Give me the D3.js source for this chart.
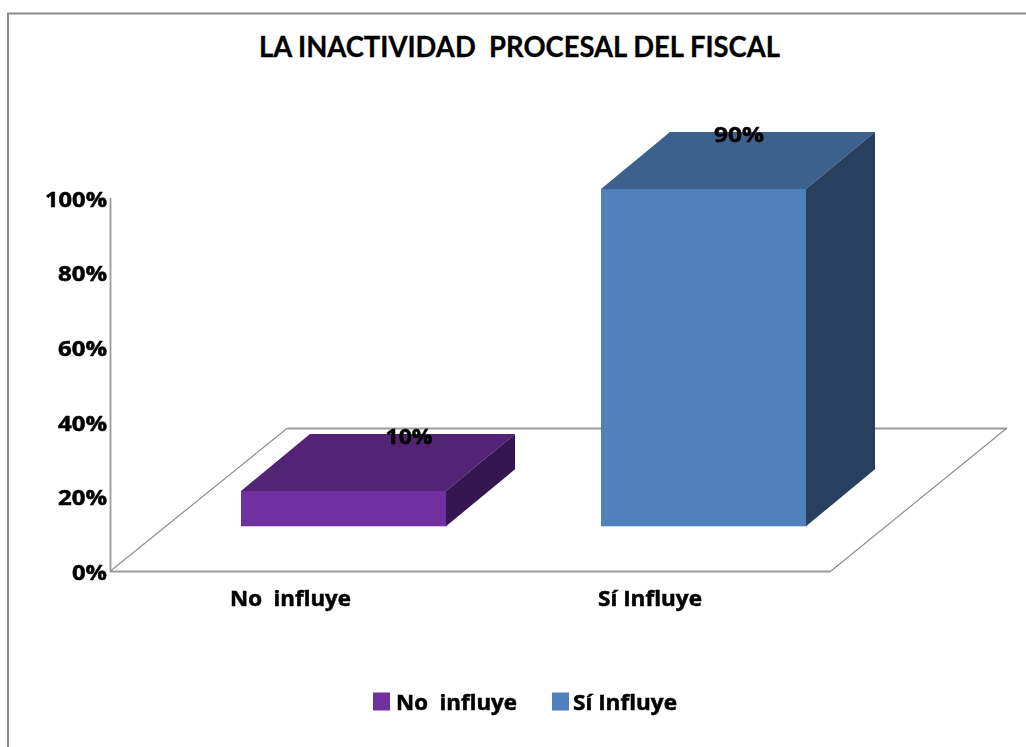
<!DOCTYPE html>
<html><head><meta charset="utf-8">
<script src="https://cdn.jsdelivr.net/npm/d3@7"></script>
<style>
html,body{margin:0;padding:0;background:#fff;overflow:hidden}
svg{display:block}
.lbl{font-family:"Open Sans",sans-serif;font-weight:700;font-size:21px;fill:#000;stroke:#000;stroke-width:.5px;white-space:pre}
</style></head><body><div id="c"></div>
<script>
const categories = ["No  influye", "Sí Influye"];
const values = [10, 90];
const dataLabels = ["10%", "90%"];
const yTicks = [0, 20, 40, 60, 80, 100];
const frontColors = ["#7030a0", "#4f81bd"];
const topColors = ["#532376", "#3c618c"];
const sideColors = ["#351650", "#283f5e"];
const titleText = "LA INACTIVIDAD  PROCESAL DEL FISCAL";

const W = 1026, H = 747;
const svg = d3.select("#c").append("svg").attr("width", W).attr("height", H);
svg.append("defs").append("filter").attr("id","soft")
  .attr("x","-10%").attr("y","-30%").attr("width","120%").attr("height","160%")
  .append("feGaussianBlur").attr("stdDeviation",0.5);

// frame
svg.append("path").attr("d",`M8,${H}V13.5H${W}`).attr("fill","none").attr("stroke","#8c8c8c").attr("stroke-width",2);

svg.append("text").attr("x",519.5).attr("y",57).attr("text-anchor","middle")
  .attr("font-family","Lato, sans-serif").attr("font-weight",700).attr("font-size",28)
  .attr("stroke","#000").attr("stroke-width",0.3)
  .attr("textLength",521).attr("lengthAdjust","spacingAndGlyphs")
  .style("white-space","pre").text(titleText);

// scales
const y = d3.scaleLinear().domain([0,100]).range([571,198]);
const barTop = d3.scaleLinear().domain([10,90]).range([491,189]);
const barBase = 526.3, barX = d3.scaleOrdinal().domain(categories).range([241,601]), barW = 205;
const depthX = 69, depthY = -57;
const floorDX = 177, floorDY = -143;

// floor and wall
const g = svg.append("g");
g.append("path").attr("d",`M110.5,198V571.5H831`).attr("fill","none").attr("stroke","#9a9a9a").attr("stroke-width",1.8);
g.append("path").attr("d",`M${110.5+floorDX},${571.5+floorDY}H${831+floorDX-1}`).attr("fill","none").attr("stroke","#9a9a9a").attr("stroke-width",1.8);
g.append("path").attr("d",`M110.5,571L${110.5+floorDX},${571+floorDY}M831,571L${831+floorDX-1},${571+floorDY}`)
  .attr("fill","none").attr("stroke","#8e8e8e").attr("stroke-width",1.2);

// y axis labels via d3 axis
const tickWidth = {0:35, 20:49, 40:49, 60:49, 80:49, 100:62};
const ax = svg.append("g").attr("transform","translate(107,0)")
  .call(d3.axisLeft(y).tickValues(yTicks).tickFormat(d=>d+"%").tickSize(0).tickPadding(0));
ax.select(".domain").remove();
ax.selectAll("text").attr("class","lbl").attr("filter","url(#soft)").attr("dy","0.36em")
  .attr("y",0.8).attr("textLength",d=>tickWidth[d]).attr("lengthAdjust","spacingAndGlyphs");

const lbl = (x,yy,t,len,anchor)=>svg.append("text").attr("class","lbl").attr("filter","url(#soft)")
  .attr("x",x).attr("y",yy).attr("text-anchor",anchor||"middle")
  .attr("textLength",len).attr("lengthAdjust","spacingAndGlyphs").text(t);

// bars
const labelX = [409,739], labelW = [47,50], catX = [290.5,650], catW = [121,104];
categories.forEach((c,i)=>{
  const x0 = barX(c), x1 = x0+barW, t = barTop(values[i]), b = barBase;
  const gb = svg.append("g");
  gb.append("path").attr("fill",topColors[i]).attr("d",`M${x0},${t}L${x0+depthX},${t+depthY}H${x1+depthX}L${x1},${t}Z`);
  gb.append("path").attr("fill",sideColors[i]).attr("d",`M${x1},${t}L${x1+depthX},${t+depthY}V${b+depthY}L${x1},${b}Z`);
  gb.append("rect").attr("fill",frontColors[i]).attr("x",x0).attr("y",t).attr("width",barW).attr("height",b-t);
  lbl(labelX[i], t+depthY+9.5, dataLabels[i], labelW[i]);
  lbl(catX[i], 605.5, c, catW[i]);
});

// legend
const legendX = [373,552], legendTextX = [396,573];
categories.forEach((c,i)=>{
  svg.append("rect").attr("x",legendX[i]).attr("y",692.5).attr("width",17).attr("height",18).attr("fill",frontColors[i]);
  lbl(legendTextX[i], 709.5, c, catW[i], "start");
});
</script></body></html>
